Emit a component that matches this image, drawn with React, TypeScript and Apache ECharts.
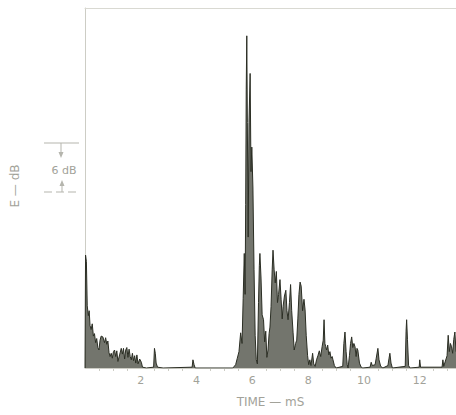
import React, { useEffect, useRef } from "react";
import * as echarts from "echarts";

// [time in ms, energy in dB above the floor]
const earlyDecay: [number, number][] = [
  [0.0, 0], [0.02, 13.8], [0.05, 13.0], [0.08, 7.6], [0.12, 6.4], [0.15, 7.0], [0.18, 5.2], [0.22, 4.7],
  [0.26, 5.4], [0.3, 3.9], [0.34, 4.2], [0.38, 3.1], [0.42, 3.6], [0.46, 2.5], [0.5, 2.2], [0.54, 3.4],
  [0.58, 3.9], [0.64, 3.8], [0.7, 3.1], [0.74, 3.7], [0.78, 2.9], [0.82, 3.3], [0.86, 1.9], [0.9, 1.4],
  [0.94, 1.8], [0.98, 1.2], [1.02, 2.0], [1.06, 2.2], [1.1, 1.4], [1.14, 2.1], [1.18, 0.8], [1.24, 1.6],
  [1.3, 2.4], [1.34, 1.7], [1.38, 2.4], [1.42, 1.1], [1.46, 2.2], [1.5, 2.5], [1.54, 1.3], [1.58, 2.3],
  [1.62, 1.4], [1.66, 1.0], [1.7, 1.8], [1.74, 0.9], [1.78, 1.5], [1.82, 0.6], [1.86, 1.6], [1.9, 0.5],
  [1.96, 1.1], [2.02, 0.7], [2.06, 0.1], [2.2, 0], [2.46, 0.1], [2.49, 2.4], [2.52, 1.8], [2.55, 0.6],
  [2.6, 0.1], [2.8, 0], [3.84, 0.1], [3.87, 1.0], [3.91, 0.4], [3.95, 0], [5.3, 0], [5.4, 0.4],
];

const directPeak: [number, number][] = [
  [5.46, 1.2], [5.52, 2.0], [5.58, 4.3], [5.63, 3.0], [5.67, 8.5], [5.71, 14.0], [5.74, 9.0], [5.76, 20.0],
  [5.78, 34.0], [5.8, 40.6], [5.82, 30.0], [5.85, 16.0], [5.88, 30.0], [5.92, 36.0], [5.95, 24.0],
  [5.98, 27.0], [6.02, 22.0], [6.06, 12.0], [6.1, 4.0], [6.14, 1.0], [6.18, 0.5],
];

const reflections: [number, number][] = [
  [6.22, 8.0], [6.25, 12.5], [6.27, 14.0], [6.31, 11.0], [6.35, 6.5], [6.4, 5.9], [6.44, 3.2], [6.48, 4.5],
  [6.52, 1.3], [6.56, 2.2], [6.6, 4.2], [6.63, 5.0], [6.67, 7.5], [6.71, 12.0], [6.74, 14.4], [6.78, 12.0],
  [6.82, 10.4], [6.86, 11.8], [6.9, 8.0], [6.94, 9.0], [6.99, 10.8], [7.03, 8.4], [7.07, 6.0], [7.1, 7.5],
  [7.15, 8.8], [7.2, 9.5], [7.24, 7.0], [7.28, 5.9], [7.33, 8.0], [7.37, 10.2], [7.41, 7.0], [7.46, 4.3],
  [7.5, 2.2], [7.55, 3.0], [7.59, 3.4], [7.63, 6.0], [7.67, 9.0], [7.71, 10.5], [7.75, 10.0], [7.8, 7.0],
  [7.85, 8.4], [7.89, 7.1], [7.93, 4.0], [7.98, 1.5], [8.02, 0.4], [8.06, 1.0], [8.1, 0.3], [8.16, 1.8],
  [8.2, 0.5], [8.25, 0.2], [8.3, 1.0], [8.35, 1.5], [8.4, 2.1], [8.45, 1.4], [8.5, 2.6], [8.54, 3.4],
  [8.57, 5.9], [8.6, 3.0], [8.63, 2.6], [8.66, 2.2], [8.7, 2.8], [8.74, 1.6], [8.78, 2.0], [8.82, 1.2],
  [8.86, 1.4], [8.89, 1.0], [8.94, 0.3], [9.0, 0],
];

const lateTail: [number, number][] = [
  [9.24, 0.2], [9.28, 3.0], [9.32, 4.4], [9.36, 2.0], [9.4, 0.4], [9.43, 0], [9.48, 1.5], [9.52, 3.0],
  [9.56, 3.8], [9.6, 2.5], [9.64, 3.0], [9.68, 2.6], [9.72, 1.4], [9.75, 2.4], [9.78, 2.2], [9.84, 0.6],
  [9.9, 0.1], [9.96, 0], [10.22, 0.1], [10.26, 0.7], [10.3, 0.3], [10.4, 0.4], [10.44, 1.2], [10.5, 2.4],
  [10.54, 1.0], [10.6, 0.2], [10.68, 0], [10.86, 0.3], [10.9, 1.2], [10.93, 1.8], [10.97, 0.6], [11.02, 0],
  [11.48, 0.2], [11.51, 4.5], [11.53, 5.9], [11.56, 3.5], [11.6, 0.3], [11.65, 0], [11.98, 0.1], [12.0, 1.0],
  [12.03, 0.1], [12.8, 0.1], [12.83, 1.0], [12.86, 0.2], [12.98, 1.5], [13.02, 4.0], [13.06, 2.0], [13.1, 3.0],
  [13.14, 2.6], [13.18, 1.8], [13.22, 3.5], [13.26, 4.4], [13.3, 2.0],
];

const xTickLabels: number[] = [2, 4, 6, 8, 10, 12];

const AXIS = "#cdcdc5";
const TEXT = "#a2a299";
const TRACE = "#2b2e24";

export default function App() {
  const ref = useRef<HTMLDivElement>(null);
  useEffect(() => {
    if (!ref.current) return;
    const chart = echarts.init(ref.current, null, { renderer: "svg" });
    const data = [...earlyDecay, ...directPeak, ...reflections, ...lateTail];
    chart.setOption({
      animation: false,
      backgroundColor: "#ffffff",
      grid: { left: 85, right: 0, top: 8, bottom: 47 },
      xAxis: [
        {
          type: "value",
          min: 0,
          max: 13.3,
          interval: 2,
          axisLine: { show: true, lineStyle: { color: AXIS, width: 1 } },
          axisTick: { show: false },
          minorTick: { show: true, splitNumber: 4, length: 3, lineStyle: { color: AXIS } },
          splitLine: { show: false },
          axisLabel: {
            color: TEXT,
            fontSize: 11,
            fontFamily: "DejaVu Sans",
            margin: 7,
            showMaxLabel: false,
            formatter: (v: number) => (xTickLabels.includes(v) ? String(v) : ""),
          },
          name: "TIME — mS",
          nameLocation: "middle",
          nameGap: 28,
          nameTextStyle: { color: TEXT, fontSize: 12, fontFamily: "DejaVu Sans" },
        },
        {
          type: "value",
          position: "top",
          min: 0,
          max: 13.3,
          axisLine: { show: true, lineStyle: { color: "#d9d9d2", width: 1 } },
          axisTick: { show: false },
          axisLabel: { show: false },
          splitLine: { show: false },
        },
      ],
      yAxis: {
        type: "value",
        min: 0,
        max: 44,
        offset: 2,
        axisLine: { show: true, lineStyle: { color: AXIS, width: 1 } },
        axisTick: { show: false },
        axisLabel: { show: false },
        splitLine: { show: false },
      },
      series: [
        {
          type: "line",
          data,
          symbol: "none",
          lineStyle: { color: TRACE, width: 1 },
          areaStyle: { color: "#3d4034", opacity: 0.72 },
          z: 3,
        },
      ],
      graphic: [
        {
          type: "text",
          x: 15,
          y: 186,
          rotation: Math.PI / 2,
          style: {
            text: "E — dB",
            fill: TEXT,
            fontSize: 12,
            fontFamily: "DejaVu Sans",
            align: "center",
            verticalAlign: "middle",
          },
        },
        { type: "line", shape: { x1: 44, y1: 143, x2: 79, y2: 143 }, style: { stroke: "#b5b5ad", lineWidth: 1 } },
        { type: "line", shape: { x1: 61, y1: 143, x2: 61, y2: 154 }, style: { stroke: "#b5b5ad", lineWidth: 1 } },
        { type: "polygon", shape: { points: [[58.5, 152], [63.5, 152], [61, 158]] }, style: { fill: "#b5b5ad" } },
        {
          type: "text",
          x: 64,
          y: 170,
          style: {
            text: "6 dB",
            fill: TEXT,
            fontSize: 11,
            fontFamily: "DejaVu Sans",
            align: "center",
            verticalAlign: "middle",
          },
        },
        {
          type: "line",
          shape: { x1: 44, y1: 192, x2: 80, y2: 192 },
          style: { stroke: "#b5b5ad", lineWidth: 1, lineDash: [8, 4] },
        },
        { type: "line", shape: { x1: 62, y1: 192, x2: 62, y2: 184 }, style: { stroke: "#b5b5ad", lineWidth: 1 } },
        { type: "polygon", shape: { points: [[59.5, 186], [64.5, 186], [62, 180]] }, style: { fill: "#b5b5ad" } },
      ],
    });
    return () => chart.dispose();
  }, []);
  return <div ref={ref} style={{ position: "fixed", left: 0, top: 0, width: 456, height: 415 }} />;
}
